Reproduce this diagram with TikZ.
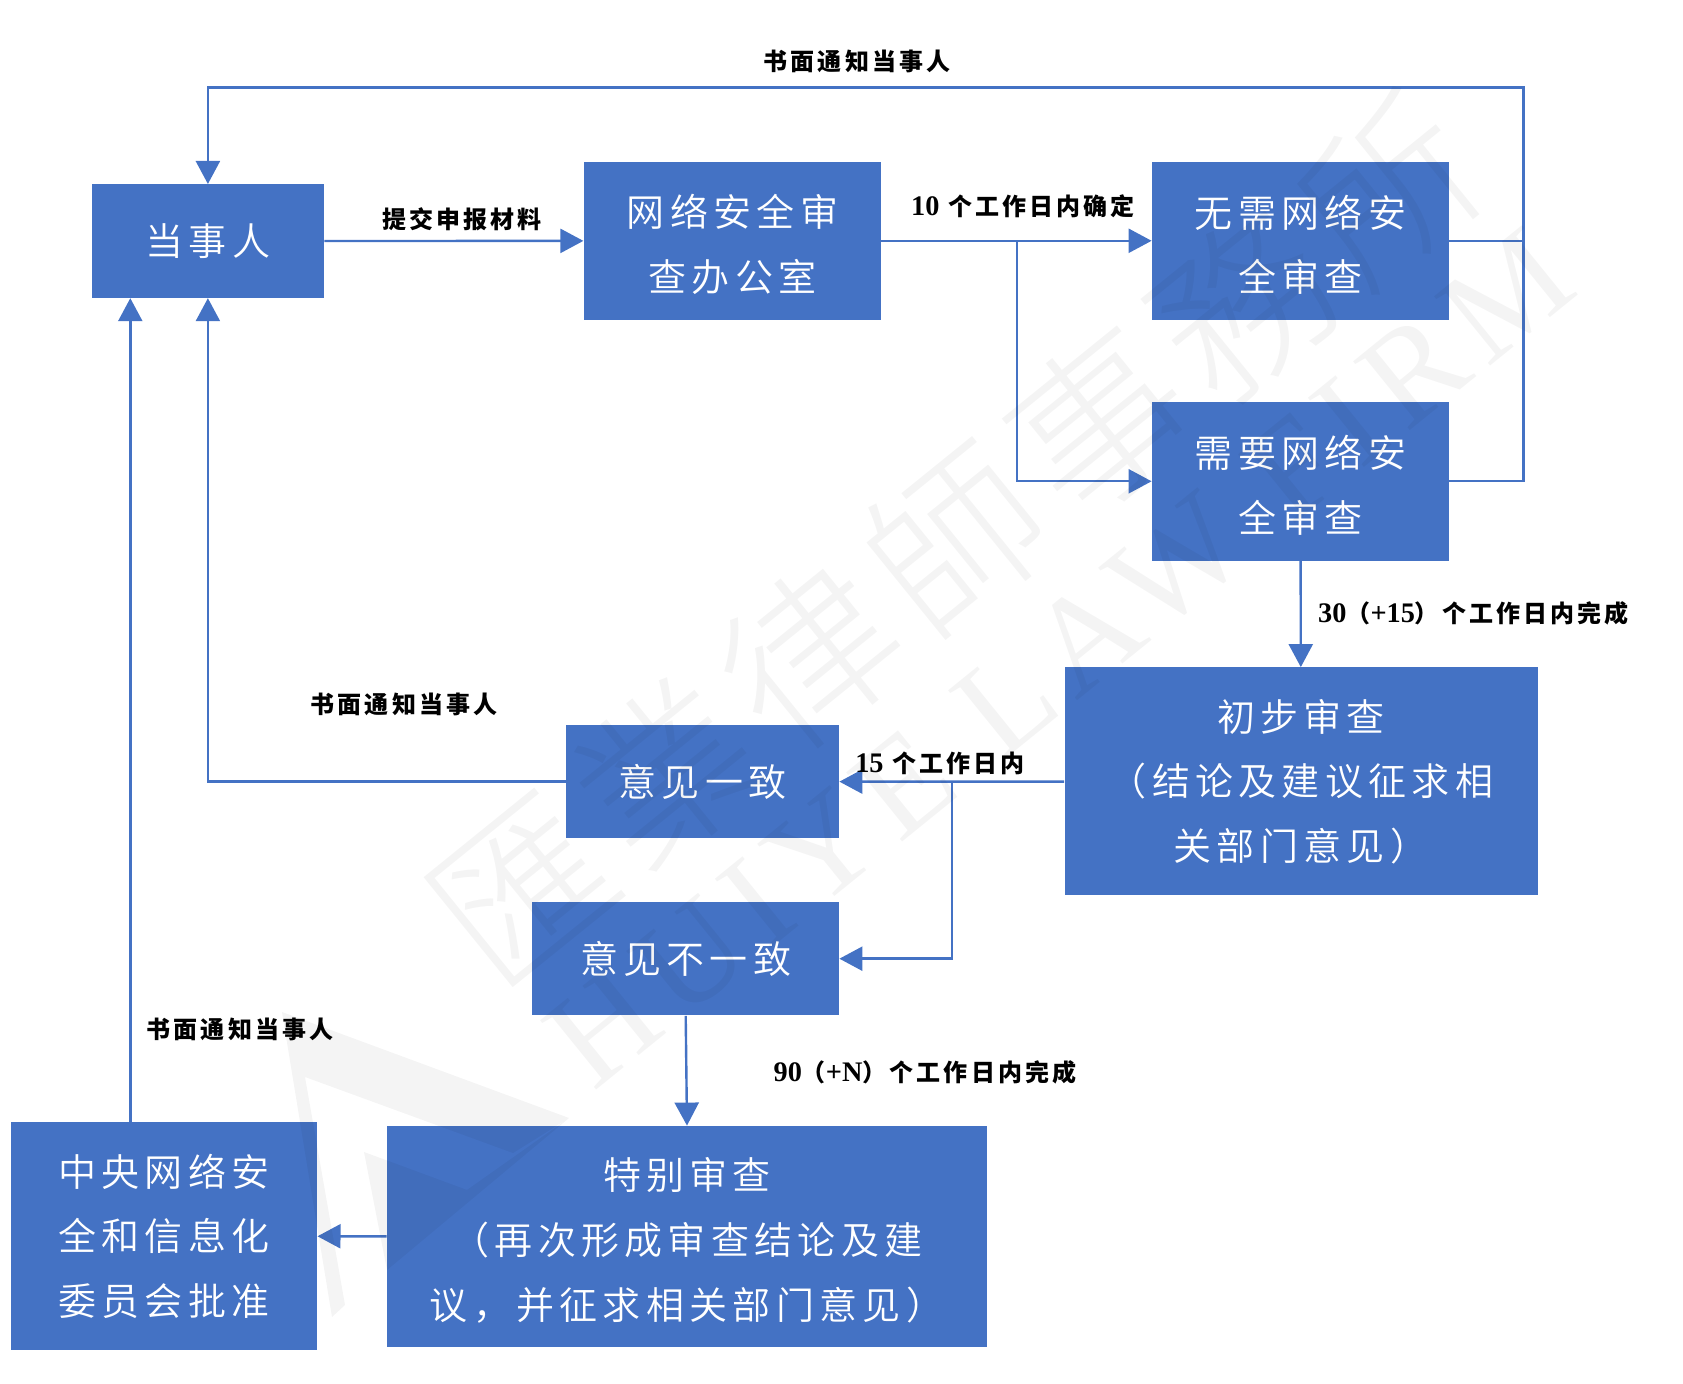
\documentclass[tikz,border=0pt]{standalone}
\usepackage{fontspec}
\usetikzlibrary{arrows.meta}
\setmainfont{Liberation Serif}
\newfontfamily\latfont[Scale=1.18]{Liberation Serif}
\newfontfamily\markla[LetterSpace=10]{Liberation Serif}
\newfontfamily\zhfont[LetterSpace=13]{Noto Sans CJK SC}
\newfontfamily\boxfont[LetterSpace=14,UprightFont=* DemiLight]{Noto Sans CJK SC}
\newfontfamily\markfont[LetterSpace=8,UprightFont=* Light]{Noto Sans CJK TC}
\newcommand{\lowr}{\rule{0pt}{20pt}}

\begin{document}
\begin{tikzpicture}[
		x=.5pt, y=-.5pt
		,n/.style={fill=boxblue, text=white, inner sep=0pt, align=center, font=\boxfont\fontsize{19}{32.3}\selectfont}
		,conn/.style={draw=boxblue, line width=1.2pt}
		,arrow/.style={conn, -{Triangle[width=12pt, length=11.5pt]}}
		,lab/.style={inner sep=0pt, font=\zhfont\bfseries\fontsize{12}{14}\selectfont}
		,wm/.style={text=black, text opacity=.045, inner sep=0pt, rotate=39}
	]
		\definecolor{boxblue}{HTML}{4472C4}
		\useasboundingbox (0,0) rectangle (1683,1384);

		\node[n, minimum width=116pt, minimum height=56.7pt] (party) at (207.9,241.1) {当事人};
		\node[n, minimum width=148.6pt, minimum height=79.2pt] (office) at (732.4,240.8) {\lowr 网络安全审\\查办公室};
		\node[n, minimum width=148.5pt, minimum height=79.2pt] (noreview) at (1300.5,240.8) {\lowr 无需网络安\\全审查};
		\node[n, minimum width=148.5pt, minimum height=79.3pt] (review) at (1300.5,481.3) {\lowr 需要网络安\\全审查};
		\node[n, minimum width=236.5pt, minimum height=114pt] (prelim) at (1301,781.5) {初步审查\\（结论及建议征求相\\关部门意见）};
		\node[n, minimum width=136.5pt, minimum height=56.7pt] (agree) at (702.5,781.7) {意见一致};
		\node[n, minimum width=153.3pt, minimum height=56.7pt] (differ) at (685.7,958.7) {意见不一致};
		\node[n, minimum width=300pt, minimum height=110.5pt] (special) at (687,1236.5) {\lowr 特别审查\\（再次形成审查结论及建\\议，并征求相关部门意见）};
		\node[n, minimum width=153.3pt, minimum height=114.2pt] (central) at (163.8,1236.2) {中央网络安\\全和信息化\\委员会批准};

		\coordinate (corner) at (1523.5,87.5);
		\coordinate (forkA) at (1017,240.8);
		\coordinate (forkB) at (952,781.6);
		\coordinate (upline) at (130.3,0);

		\draw[arrow] (party) -- (office);
		\draw[arrow] (office) -- (noreview);
		\draw[arrow] (forkA) |- (review.west);
		\draw[conn] (noreview.east) -- (noreview.east -| corner);
		\draw[arrow] (review.east) -| (corner) -| (party.north);
		\draw[arrow] (review) -- (prelim);
		\draw[arrow] (prelim) -- (agree);
		\draw[arrow] (forkB) |- (differ.east);
		\draw[arrow] (agree.west) -| (party.south);
		\draw[arrow] (differ.south) -- (special.north);
		\draw[arrow] (special) -- (central);
		\draw[arrow] (central.north -| upline) -- (party.south -| upline);

		\node[lab] (noticeA) at (857,61) {书面通知当事人};
		\node[lab] (submit) at (462,219) {提交申报材料};
		\node[lab] (tendays) at (1023,206) {{\latfont 10} 个工作日内确定};
		\node[lab] (thirtydays) at (1473.5,613) {{\latfont 30}（{\latfont +15}）个工作日内完成};
		\node[lab] (noticeB) at (404,704) {书面通知当事人};
		\node[lab] (fifteendays) at (940,763) {{\latfont 15} 个工作日内};
		\node[lab] (noticeC) at (240,1029) {书面通知当事人};
		\node[lab] (ninetydays) at (925,1072) {{\latfont 90}（{\latfont +N}）个工作日内完成};

		% watermark
		\fill[black, opacity=.045] (282,1012) -- (569,1118) -- (513,1153) -- (305,1077) -- (345,1305) -- (332,1317) -- cycle
			(364,1152) -- (467,1190) -- (569,1118) -- (387,1270) -- cycle;
		\node[wm, font=\markfont\fontsize{86}{90}\selectfont] (markzh) at (955,539) {匯業律師事務所};
		\node[wm, font=\markla\fontsize{68}{72}\selectfont] (marken) at (1060,658) {HUIYE LAW FIRM};
	\end{tikzpicture}
\end{document}
